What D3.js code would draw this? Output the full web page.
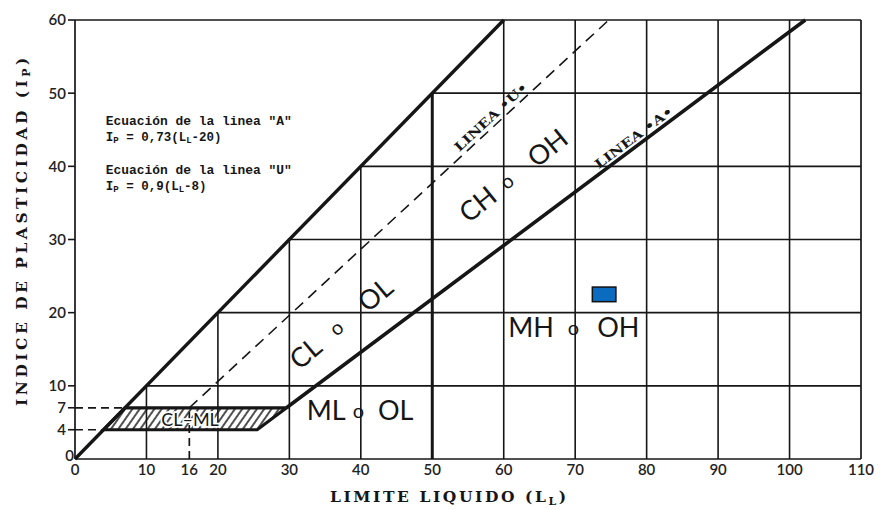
<!DOCTYPE html>
<html>
<head>
<meta charset="utf-8">
<script src="https://cdn.jsdelivr.net/npm/d3@7/dist/d3.min.js"></script>
<style>
  html, body { margin: 0; padding: 0; background: #ffffff; }
  svg { display: block; }
</style>
</head>
<body>
<svg id="chart" width="882" height="510"></svg>
<script>
// ---------------- data ----------------
const X_TICKS = [0, 10, 16, 20, 30, 40, 50, 60, 70, 80, 90, 100, 110];
const Y_TICKS = [0, 4, 7, 10, 20, 30, 40, 50, 60];
const GRID_X = [10, 20, 30, 40, 50, 60, 70, 80, 90, 100];
const GRID_Y = [10, 20, 30, 40, 50];
const UPPER_LINE = [[0, 0], [60, 60]];              // Ip = LL limit
const LINE_A = [[29.6, 7], [102.2, 60]];            // Ip = 0.73 (LL - 20)
const LINE_U = [[16, 7], [74.7, 60]];               // Ip = 0.9 (LL - 8)
const CLML_ZONE = [[4, 4], [25.5, 4], [29.6, 7], [7, 7]];
const GUIDES = [[[0, 4], [4, 4]], [[0, 7], [7, 7]], [[16, 0], [16, 7]]];
const REGION_LABELS = [
  { parts: ["ML", "o", "OL"], ll: 39.9, ip: 6.7, angle: 0,   gaps: [7, 14] },
  { parts: ["MH", "o", "OH"], ll: 69.8, ip: 18.0, angle: 0,  gaps: [14, 18] },
  { parts: ["CL", "o", "OL"], ll: 37.2, ip: 18.6, angle: -40, gaps: [18, 28] },
  { parts: ["CH", "o", "OH"], ll: 61.3, ip: 38.8, angle: -39, gaps: [12, 26] }
];
const LINE_LABELS = [
  { text: "LINEA \u2022U\u2022", ll: 59.0, ip: 45.9, on: LINE_U },
  { text: "LINEA \u2022A\u2022", ll: 78.9, ip: 43.0, on: LINE_A }
];
const EQUATIONS = [
  { name: "Ecuación de la linea \"A\"", coef: "0,73", k: "20", ll: 4.3, ip: 45.6 },
  { name: "Ecuación de la linea \"U\"", coef: "0,9",  k: "8",  ll: 4.3, ip: 39.0 }
];
const MARKER = { ll0: 72.4, ll1: 75.7, ip0: 21.5, ip1: 23.5 };

// ---------------- scales ----------------
const svg = d3.select("#chart");
const x = d3.scaleLinear().domain([0, 110]).range([75, 861]);
const y = d3.scaleLinear().domain([0, 60]).range([459, 20]);
const line = d3.line().x(d => x(d[0])).y(d => y(d[1]));
const INK = "#161616";

svg.append("rect").attr("width", 882).attr("height", 510).attr("fill", "#fff");

// hatch pattern
const defs = svg.append("defs");
const pat = defs.append("pattern").attr("id", "hatch")
  .attr("patternUnits", "userSpaceOnUse").attr("width", 6).attr("height", 6)
  .attr("patternTransform", "rotate(35)");
pat.append("line").attr("x1", 1).attr("y1", 0).attr("x2", 1).attr("y2", 6)
  .attr("stroke", INK).attr("stroke-width", 1.5);

// ---------------- grid ----------------
const g = svg.append("g");
g.selectAll("line.vg").data(GRID_X).join("line")
  .attr("x1", d => x(d)).attr("x2", d => x(d))
  .attr("y1", y(0)).attr("y2", d => y(Math.min(d, 60)))
  .attr("stroke", INK).attr("stroke-width", d => d === 50 ? 3 : 1.6);
g.selectAll("line.hg").data(GRID_Y).join("line")
  .attr("x1", d => x(d)).attr("x2", x(110))
  .attr("y1", d => y(d)).attr("y2", d => y(d))
  .attr("stroke", INK).attr("stroke-width", 1.6);

// frame
const frame = [[[0, 0], [110, 0]], [[0, 0], [0, 60]], [[0, 60], [110, 60]], [[110, 0], [110, 60]]];
g.selectAll("path.frame").data(frame).join("path")
  .attr("d", line).attr("fill", "none").attr("stroke", INK).attr("stroke-width", 1.7);

// y ticks
g.selectAll("line.yt").data(Y_TICKS.filter(d => d > 0)).join("line")
  .attr("x1", x(0) - 7).attr("x2", x(0))
  .attr("y1", d => y(d)).attr("y2", d => y(d))
  .attr("stroke", INK).attr("stroke-width", 1.6);

// guide dashed lines
g.selectAll("path.guide").data(GUIDES).join("path")
  .attr("d", line).attr("fill", "none").attr("stroke", INK)
  .attr("stroke-width", 1.7).attr("stroke-dasharray", "8,5");

// CL-ML zone
g.append("path").attr("d", line(CLML_ZONE) + "Z")
  .attr("fill", "url(#hatch)").attr("stroke", INK).attr("stroke-width", 3.2)
  .attr("stroke-linejoin", "miter");

// U line
g.append("path").attr("d", line(LINE_U)).attr("fill", "none")
  .attr("stroke", INK).attr("stroke-width", 1.6).attr("stroke-dasharray", "11,7");

// upper & A lines
g.append("path").attr("d", line(UPPER_LINE)).attr("fill", "none")
  .attr("stroke", INK).attr("stroke-width", 3.4);
g.append("path").attr("d", line(LINE_A)).attr("fill", "none")
  .attr("stroke", INK).attr("stroke-width", 3.6);

// CL-ML text
g.append("text").attr("x", x(16.1)).attr("y", y(5.4)).attr("dy", "0.36em")
  .attr("text-anchor", "middle").attr("font-family", "Lato, 'DejaVu Sans', sans-serif")
  .attr("font-size", 18).attr("fill", INK)
  .attr("stroke", "#fff").attr("stroke-width", 3.5).attr("paint-order", "stroke")
  .text("CL–ML");

// ---------------- tick labels ----------------
const tickFont = "Lato, 'DejaVu Sans', sans-serif";
g.selectAll("text.xt").data(X_TICKS).join("text")
  .attr("x", d => x(d)).attr("y", 475)
  .attr("text-anchor", "middle").attr("font-family", tickFont)
  .attr("font-size", 15).attr("font-weight", 600).attr("fill", "#222")
  .text(d => d);
g.selectAll("text.yt").data(Y_TICKS).join("text")
  .attr("x", d => d === 0 ? x(0) - 1 : x(0) - 9).attr("y", d => d === 0 ? y(d) - 3 : y(d))
  .attr("dy", "0.36em")
  .attr("text-anchor", "end").attr("font-family", tickFont)
  .attr("font-size", 15).attr("font-weight", 600).attr("fill", "#222")
  .text(d => d);

// ---------------- region labels ----------------
const regFont = "Lato, 'DejaVu Sans', sans-serif";
REGION_LABELS.forEach(lb => {
  const t = g.append("text")
    .attr("transform", `translate(${x(lb.ll)},${y(lb.ip)}) rotate(${lb.angle})`)
    .attr("y", 10).attr("text-anchor", "middle")
    .attr("font-family", regFont).attr("fill", INK);
  t.append("tspan").attr("font-size", 27).text(lb.parts[0]);
  t.append("tspan").attr("font-size", 20).attr("dx", lb.gaps[0]).attr("dy", -2).text(lb.parts[1]);
  t.append("tspan").attr("font-size", 27).attr("dx", lb.gaps[1]).attr("dy", 2).text(lb.parts[2]);
});

// line labels (rotated along line)
LINE_LABELS.forEach(lb => {
  const p0 = lb.on[0], p1 = lb.on[1];
  const ang = Math.atan2(y(p1[1]) - y(p0[1]), x(p1[0]) - x(p0[0])) * 180 / Math.PI;
  g.append("text")
    .attr("transform", `translate(${x(lb.ll)},${y(lb.ip)}) rotate(${ang})`)
    .attr("y", -4).attr("text-anchor", "middle")
    .attr("font-family", "'DejaVu Serif', 'Liberation Serif', serif").attr("font-weight", "bold")
    .attr("font-size", 12.5).attr("fill", INK)
    .attr("textLength", 94).attr("lengthAdjust", "spacingAndGlyphs")
    .text(lb.text);
});

// equations
const eqFont = "'Liberation Mono', 'DejaVu Sans Mono', monospace";
EQUATIONS.forEach(eq => {
  const tx = x(eq.ll), ty = y(eq.ip);
  g.append("text").attr("x", tx).attr("y", ty)
    .attr("font-family", eqFont).attr("font-weight", "bold").attr("font-size", 12.5)
    .attr("fill", INK).attr("textLength", 186).attr("lengthAdjust", "spacingAndGlyphs")
    .text(eq.name);
  const t2 = g.append("text").attr("x", tx).attr("y", ty + 16)
    .attr("font-family", eqFont).attr("font-weight", "bold").attr("font-size", 12.5)
    .attr("fill", INK);
  t2.append("tspan").text("I");
  t2.append("tspan").attr("font-size", 9).attr("dy", 2).text("P");
  t2.append("tspan").attr("dy", -2).text(` = ${eq.coef}(L`);
  t2.append("tspan").attr("font-size", 9).attr("dy", 2).text("L");
  t2.append("tspan").attr("dy", -2).text(`-${eq.k})`);
});

// marker
g.append("rect")
  .attr("x", x(MARKER.ll0)).attr("y", y(MARKER.ip1))
  .attr("width", x(MARKER.ll1) - x(MARKER.ll0)).attr("height", y(MARKER.ip0) - y(MARKER.ip1))
  .attr("fill", "#0b6cbf").attr("stroke", "#111").attr("stroke-width", 1.5);

// ---------------- axis titles ----------------
const titleFont = "'DejaVu Serif', 'Liberation Serif', serif";
const xt = svg.append("text").attr("x", 330).attr("y", 502)
  .attr("font-family", titleFont).attr("font-weight", "bold").attr("font-size", 15.5).attr("fill", INK)
  .attr("letter-spacing", 2.6);
xt.append("tspan").text("LIMITE LIQUIDO (L");
xt.append("tspan").attr("font-size", 11).attr("dy", 3).text("L");
xt.append("tspan").attr("dy", -3).text(")");

const yt = svg.append("text").attr("transform", "translate(27,406) rotate(-90)")
  .attr("font-family", titleFont).attr("font-weight", "bold").attr("font-size", 15.5).attr("fill", INK)
  .attr("letter-spacing", 3.5);
yt.append("tspan").text("INDICE DE PLASTICIDAD (I");
yt.append("tspan").attr("font-size", 11).attr("dy", 3).text("P");
yt.append("tspan").attr("dy", -3).text(")");
</script>
</body>
</html>
